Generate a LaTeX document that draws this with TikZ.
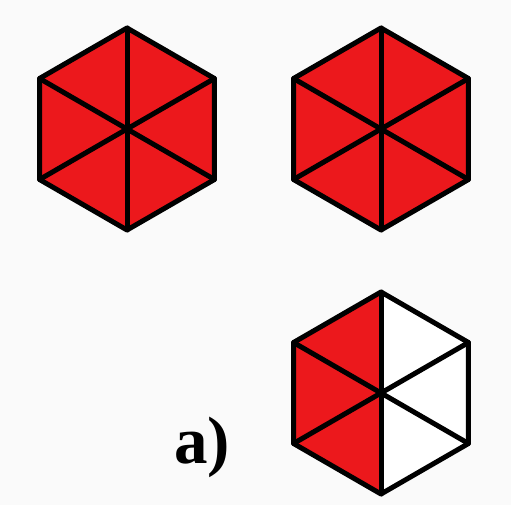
\documentclass[tikz,border=0pt]{standalone}
\usepackage{fontspec}
\newfontfamily\labelfont{Liberation Serif}
\definecolor{hexred}{RGB}{236,24,28}
\definecolor{bg}{RGB}{250,250,250}
\tikzset{
  edge/.style={line width=5pt, line join=round, line cap=round, black},
  redpart/.style={fill=hexred},
  whitepart/.style={fill=white}
}
\newcommand{\hexpic}[4]{% name, cx, cy, fills list (6 styles starting at top vertex going clockwise-left)
  \coordinate (#1c) at (#2pt,-#3pt);
  \foreach \i in {0,...,5} {
    \coordinate (#1v\i) at ($(#1c)+({90+60*\i}:101pt)$);
  }
  \foreach \i/\st [evaluate=\i as \j using {int(mod(\i+1,6))}] in {#4} {
    \fill[\st] (#1c) -- (#1v\i) -- (#1v\j) -- cycle;
  }
  \draw[edge] (#1v0) -- (#1v1) -- (#1v2) -- (#1v3) -- (#1v4) -- (#1v5) -- cycle;
  \draw[edge] (#1v0) -- (#1v3);
  \draw[edge] (#1v1) -- (#1v4);
  \draw[edge] (#1v2) -- (#1v5);
}
\usetikzlibrary{calc}
\begin{document}
\begin{tikzpicture}
\fill[bg] (0,0) rectangle (511pt,-505pt);
\useasboundingbox (0,0) rectangle (511pt,-505pt);
\hexpic{a}{127}{129}{0/redpart,1/redpart,2/redpart,3/redpart,4/redpart,5/redpart}
\hexpic{b}{381}{129}{0/redpart,1/redpart,2/redpart,3/redpart,4/redpart,5/redpart}
\hexpic{c}{381}{393}{0/redpart,1/redpart,2/redpart,3/whitepart,4/whitepart,5/whitepart}
\node[anchor=base west, inner sep=0pt, font=\labelfont\bfseries\fontsize{67}{67}\selectfont] (lbl) at (174pt,-463pt) {a)};
\end{tikzpicture}
\end{document}
